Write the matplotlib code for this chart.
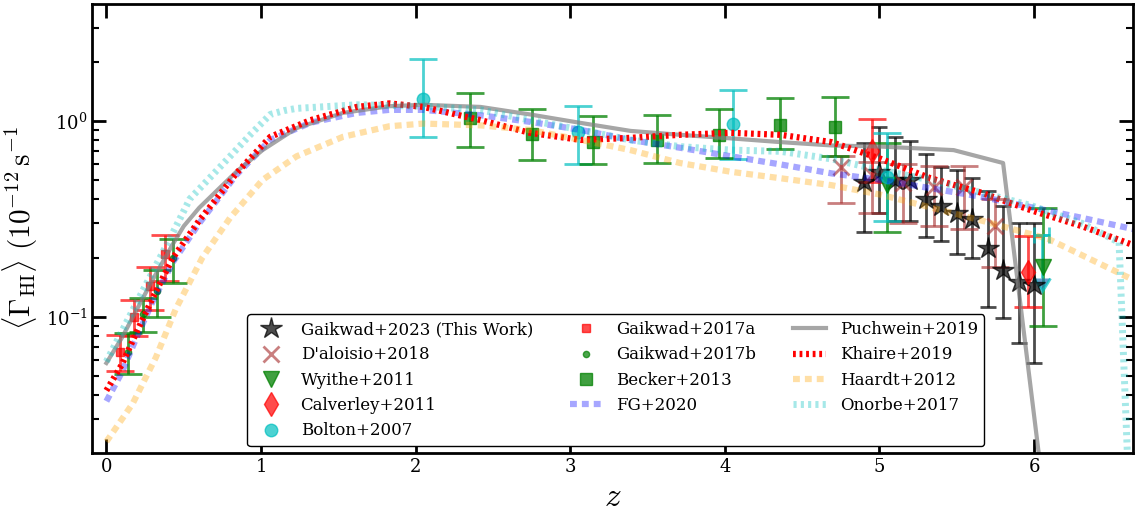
import numpy as np
import matplotlib
matplotlib.use('Agg')
import matplotlib.pyplot as plt

plt.rcParams['font.family'] = ['DejaVu Serif']
plt.rcParams['mathtext.fontset'] = 'cm'
plt.rcParams['axes.unicode_minus'] = False

# ---- observational data (z, Gamma, upper end, lower end) ----
zG23 = [4.9, 5.0, 5.1, 5.2, 5.3, 5.4, 5.5, 5.6, 5.7, 5.8, 5.9, 6.0]
gG23 = [0.49, 0.55, 0.50, 0.50, 0.40, 0.37, 0.34, 0.315, 0.224, 0.174, 0.15, 0.146]
hiG23 = [0.775, 0.93, 0.83, 0.79, 0.68, 0.58, 0.56, 0.51, 0.44, 0.37, 0.30, 0.30]
loG23 = [0.27, 0.34, 0.31, 0.31, 0.256, 0.245, 0.21, 0.20, 0.112, 0.099, 0.073, 0.058]

zDal = [4.75, 4.95, 5.15, 5.35, 5.55, 5.75]
gDal = [0.58, 0.53, 0.48, 0.46, 0.46, 0.29]
hiDal = [0.66, 0.62, 0.60, 0.59, 0.59, 0.40]
loDal = [0.38, 0.34, 0.30, 0.29, 0.28, 0.18]

zWy = [5.05, 6.06]
gWy = [0.47, 0.18]
hiWy = [0.77, 0.36]
loWy = [0.27, 0.09]

zCal = [4.95, 5.96]
gCal = [0.70, 0.17]
hiCal = [1.02, 0.257]
loCal = [0.49, 0.112]

zBol = [2.05, 3.05, 4.05, 5.05]
gBol = [1.29, 0.88, 0.965, 0.52]
hiBol = [2.07, 1.19, 1.44, 0.865]
loBol = [0.83, 0.60, 0.64, 0.31]
zBolLim, gBolLim, loBolLim, dzBolLim = 6.05, 0.26, 0.157, 0.05

zG17a = [0.085, 0.18, 0.28, 0.38]
gG17a = [0.066, 0.10, 0.144, 0.21]
hiG17a = [0.081, 0.122, 0.18, 0.26]
loG17a = [0.053, 0.08, 0.108, 0.153]

zG17b = [0.14, 0.235, 0.33, 0.43]
gG17b = [0.066, 0.103, 0.136, 0.20]
hiG17b = [0.083, 0.125, 0.174, 0.25]
loG17b = [0.051, 0.084, 0.10, 0.148]

zBec = [2.35, 2.75, 3.15, 3.56, 3.96, 4.36, 4.71]
gBec = [1.03, 0.86, 0.78, 0.80, 0.85, 0.95, 0.93]
hiBec = [1.39, 1.15, 1.06, 1.07, 1.15, 1.31, 1.33]
loBec = [0.74, 0.63, 0.60, 0.61, 0.645, 0.72, 0.665]

# ---- UVB models ----
zFG = [0, 0.1, 0.2, 0.3, 0.43, 0.6, 0.84, 1.06, 1.32, 1.62, 1.83, 2.05, 2.42, 2.74, 3.07,
       3.39, 3.71, 4.04, 4.36, 4.69, 5.01, 5.66, 6.31, 6.69]
gFG = [0.037, 0.052, 0.08, 0.12, 0.19, 0.30, 0.53, 0.80, 0.98, 1.10, 1.14, 1.14, 1.07, 0.99, 0.90,
       0.80, 0.73, 0.66, 0.60, 0.54, 0.50, 0.41, 0.32, 0.275]

zPuc = [0, 0.1, 0.2, 0.3, 0.43, 0.5, 0.6, 0.84, 1.01, 1.23, 1.53, 1.83, 2.05, 2.42, 2.74, 3.06,
        3.39, 3.71, 4.04, 4.36, 4.69, 5.01, 5.48, 5.80, 6.05]
gPuc = [0.058, 0.078, 0.11, 0.155, 0.235, 0.29, 0.36, 0.55, 0.71, 0.92, 1.10, 1.19, 1.21, 1.18, 1.08, 0.98,
        0.89, 0.85, 0.815, 0.78, 0.75, 0.74, 0.71, 0.61, 0.015]

zKh = [0, 0.1, 0.2, 0.3, 0.43, 0.6, 0.84, 1.06, 1.32, 1.62, 1.83, 2.05, 2.42, 2.74, 3.07,
       3.39, 3.71, 4.04, 4.36, 4.69, 5.01, 5.33, 5.66, 5.98, 6.31, 6.69]
gKh = [0.042, 0.057, 0.085, 0.125, 0.20, 0.31, 0.54, 0.83, 1.01, 1.18, 1.23, 1.18, 1.01, 0.87, 0.80,
       0.82, 0.85, 0.87, 0.85, 0.78, 0.64, 0.51, 0.43, 0.35, 0.29, 0.225]

zHM = [0, 0.17, 0.32, 0.45, 0.62, 0.80, 1.01, 1.23, 1.53, 1.83, 2.05, 2.42, 2.74, 3.07,
       3.39, 3.71, 4.04, 4.36, 4.69, 5.01, 5.66, 6.09, 6.69]
gHM = [0.023, 0.036, 0.062, 0.11, 0.20, 0.32, 0.50, 0.66, 0.83, 0.94, 0.97, 0.95, 0.90, 0.80,
       0.71, 0.61, 0.55, 0.51, 0.47, 0.42, 0.31, 0.25, 0.148]

zOn = [0, 0.2, 0.41, 0.54, 0.80, 0.93, 1.06, 1.15, 1.23, 1.62, 2.05, 2.42, 2.74, 3.07, 3.39,
       3.71, 4.04, 4.36, 4.69, 5.01, 5.33, 5.66, 5.98, 6.31, 6.55, 6.61]
gOn = [0.059, 0.12, 0.25, 0.40, 0.66, 0.85, 1.08, 1.13, 1.16, 1.21, 1.19, 1.14, 1.01, 0.90, 0.80,
       0.74, 0.71, 0.70, 0.64, 0.56, 0.50, 0.43, 0.37, 0.30, 0.24, 0.015]


def yerr(g, hi, lo):
    g, hi, lo = np.array(g), np.array(hi), np.array(lo)
    return [g - lo, hi - g]


fig = plt.figure(figsize=(11.39, 5.14), dpi=100)
ax = fig.add_subplot(111)
fig.subplots_adjust(left=0.0812, right=0.9947, bottom=0.1193, top=0.9922)

ebkw = dict(fmt='none', elinewidth=2, capthick=2)
ax.errorbar(zG23, gG23, yerr=yerr(gG23, hiG23, loG23), ecolor='k', alpha=0.7, capsize=6, **ebkw)
ax.errorbar(zDal, gDal, yerr=yerr(gDal, hiDal, loDal), ecolor='brown', alpha=0.6, capsize=10, **ebkw)
ax.errorbar(zWy, gWy, yerr=yerr(gWy, hiWy, loWy), ecolor='g', alpha=0.75, capsize=10, **ebkw)
ax.errorbar(zCal, gCal, yerr=yerr(gCal, hiCal, loCal), ecolor='r', alpha=0.7, capsize=10, **ebkw)
ax.errorbar(zBol, gBol, yerr=yerr(gBol, hiBol, loBol), ecolor='c', alpha=0.7, capsize=10, **ebkw)
ax.errorbar([zBolLim], [gBolLim], yerr=[[gBolLim - loBolLim]], xerr=[[dzBolLim]], uplims=True,
            fmt='none', ecolor='c', alpha=0.7, capsize=6, elinewidth=2, capthick=2)
ax.errorbar(zG17a, gG17a, yerr=yerr(gG17a, hiG17a, loG17a), ecolor='r', alpha=0.7, capsize=10, **ebkw)
ax.errorbar(zG17b, gG17b, yerr=yerr(gG17b, hiG17b, loG17b), ecolor='g', alpha=0.75, capsize=10, **ebkw)
ax.errorbar(zBec, gBec, yerr=yerr(gBec, hiBec, loBec), ecolor='g', alpha=0.75, capsize=10, **ebkw)

hG23, = ax.plot(zG23, gG23, '*', color='k', alpha=0.7, ms=16, ls='none', label='Gaikwad+2023 (This Work)')
hDal, = ax.plot(zDal, gDal, 'x', color='brown', alpha=0.6, ms=12, mew=2, ls='none', label="D'aloisio+2018")
hWy, = ax.plot(zWy, gWy, 'v', color='g', alpha=0.75, ms=11, ls='none', label='Wyithe+2011')
hCal, = ax.plot(zCal, gCal, 'd', color='r', alpha=0.7, ms=12, ls='none', label='Calverley+2011')
hBol, = ax.plot(zBol, gBol, 'o', color='c', alpha=0.7, ms=9, ls='none', label='Bolton+2007')
hG17a, = ax.plot(zG17a, gG17a, 's', color='r', alpha=0.7, ms=6, ls='none', label='Gaikwad+2017a')
hG17b, = ax.plot(zG17b, gG17b, 'o', color='g', alpha=0.7, ms=4.5, ls='none', label='Gaikwad+2017b')
hBec, = ax.plot(zBec, gBec, 's', color='g', alpha=0.75, ms=8, ls='none', label='Becker+2013')

squares = (0, (1.1, 0.8))
stripes = (0, (0.45, 0.6))
hFG, = ax.plot(zFG, gFG, ls=squares, color='b', alpha=0.35, lw=4.5, label='FG+2020')
hPuc, = ax.plot(zPuc, gPuc, '-', color='grey', alpha=0.7, lw=3, label='Puchwein+2019')
hKh, = ax.plot(zKh, gKh, ls=stripes, color='r', lw=4.5, label='Khaire+2019')
hHM, = ax.plot(zHM, gHM, ls=squares, color='orange', alpha=0.35, lw=4.5, label='Haardt+2012')
hOn, = ax.plot(zOn, gOn, ls=stripes, color='c', alpha=0.35, lw=5, label='Onorbe+2017')

ax.set_yscale('log')
ax.set_xlim(-0.09, 6.64)
ax.set_ylim(0.0202, 3.96)
ax.set_xticks([0, 1, 2, 3, 4, 5, 6])
ax.set_xlabel(r'$z$', fontsize=24)
ax.set_ylabel(r'$\langle \Gamma_{\rm HI} \rangle \ (10^{-12} \, {\rm s^{-1}}$', fontsize=21)
ax.tick_params(which='both', direction='in', top=True, right=True, labelsize=13)
ax.tick_params(which='major', length=10, width=2)
ax.tick_params(which='minor', length=5, width=1.5)
for sp in ax.spines.values():
    sp.set_linewidth(2)

handles = [hG23, hDal, hWy, hCal, hBol, hG17a, hG17b, hBec, hFG, hPuc, hKh, hHM, hOn]
leg = ax.legend(handles=handles, ncol=3, loc='lower center', bbox_to_anchor=(0.503, 0.0),
                fontsize=12, numpoints=1, framealpha=1, edgecolor='k', columnspacing=2.2,
                borderaxespad=0.4)
leg.get_frame().set_linewidth(1)

fig.savefig('out.png', dpi=100)
